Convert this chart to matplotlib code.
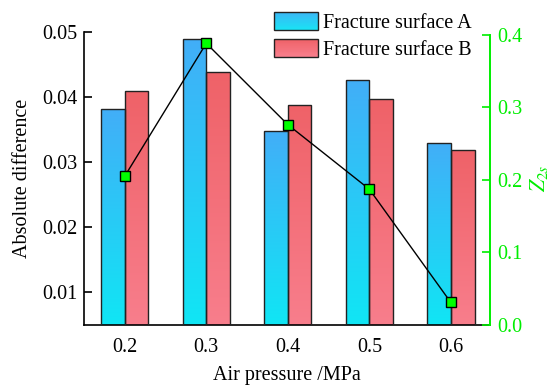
import numpy as np
import matplotlib
matplotlib.use("Agg")
import matplotlib.pyplot as plt
from matplotlib.patches import Rectangle
from matplotlib.legend_handler import HandlerBase
from matplotlib.colors import LinearSegmentedColormap, to_rgb

# ---- data ----
categories = ["0.2", "0.3", "0.4", "0.5", "0.6"]
surface_a = [0.0381, 0.0489, 0.0347, 0.0426, 0.0330]
surface_b = [0.0409, 0.0438, 0.0388, 0.0396, 0.0319]
z2s = [0.205, 0.388, 0.276, 0.187, 0.031]

plt.rcParams['font.family'] = ['Liberation Serif', 'DejaVu Serif']
plt.rcParams['mathtext.fontset'] = 'stix'
FS = 14.5

blue_top, blue_bot = "#42aef8", "#10e6f4"
red_top, red_bot = "#ef6268", "#f87e8c"
green = "#00ee00"
edge = "#222222"

fig = plt.figure(figsize=(5.5, 3.87), dpi=100)
ax = fig.add_axes([84/550, 1-325/387, (490-84)/550, (325-31.7)/387])
ax2 = ax.twinx()

x = np.arange(len(categories))
w = 0.29

def grad_bars(xs, vals, top, bot):
    bars = ax.bar(xs, vals, w, facecolor="none", edgecolor=edge, linewidth=1.0, zorder=3)
    cmap = LinearSegmentedColormap.from_list("g", [bot, top])
    grad = np.linspace(0, 1, 256).reshape(-1, 1)
    for b in bars:
        x0, y0 = b.get_x(), 0.005
        x1, y1 = b.get_x() + b.get_width(), b.get_height()
        im = ax.imshow(grad, cmap=cmap, origin="lower", aspect="auto",
                       extent=[x0, x1, y0, y1], zorder=2, interpolation="bilinear")
        im.set_clip_path(b)
    return bars

grad_bars(x - w/2, surface_a, blue_top, blue_bot)
grad_bars(x + w/2, surface_b, red_top, red_bot)

ax.set_xlim(-0.5, 4.48)
ax.set_ylim(0.005, 0.05)
ax.set_yticks([0.01, 0.02, 0.03, 0.04, 0.05])
ax.set_yticklabels(["0.01", "0.02", "0.03", "0.04", "0.05"])
ax.set_xticks(x)
ax.set_xticklabels(categories)
ax.tick_params(axis='y', direction='in', length=6, width=1.2, labelsize=FS, pad=5)
ax.tick_params(axis='x', length=0, labelsize=FS, pad=9)
ax.spines['top'].set_visible(False)
ax.spines['right'].set_visible(False)
for s in ['left', 'bottom']:
    ax.spines[s].set_linewidth(1.2)
ax.set_ylabel("Absolute difference", fontsize=FS, labelpad=7)
ax.set_xlabel("Air pressure /MPa", fontsize=FS, labelpad=7)

ax2.plot(x, z2s, color="black", linewidth=1.0, marker="s", markersize=7,
         markerfacecolor="#00ff00", markeredgecolor="black", markeredgewidth=1.0, zorder=5)
ax2.set_ylim(0, 0.404)
ax2.set_yticks([0.0, 0.1, 0.2, 0.3, 0.4])
ax2.set_yticklabels(["0.0", "0.1", "0.2", "0.3", "0.4"])
ax2.tick_params(axis='y', direction='in', length=6, width=1.2, colors=green, labelsize=FS, pad=5)
for s in ['top', 'left', 'bottom']:
    ax2.spines[s].set_visible(False)
ax2.spines['right'].set_color(green)
ax2.spines['right'].set_linewidth(1.4)
ax2.spines['right'].set_bounds(0, 0.4)
ax2.set_ylabel(r"$\mathit{Z}_{\mathit{2s}}$", fontsize=FS + 1, color=green, labelpad=4)
ax2.set_zorder(ax.get_zorder() + 1)
ax2.patch.set_visible(False)

class GradHandler(HandlerBase):
    def __init__(self, top, bot):
        super().__init__()
        self.top, self.bot = to_rgb(top), to_rgb(bot)
    def create_artists(self, legend, orig_handle, xdescent, ydescent, width, height, fontsize, trans):
        arts = []
        n = 20
        for i in range(n):
            t = i / (n - 1)
            c = tuple(self.bot[k] + (self.top[k] - self.bot[k]) * t for k in range(3))
            r = Rectangle((-xdescent, -ydescent + height * i / n), width, height / n + 0.3,
                          facecolor=c, edgecolor="none", transform=trans)
            arts.append(r)
        arts.append(Rectangle((-xdescent, -ydescent), width, height, facecolor="none",
                              edgecolor=edge, linewidth=1.0, transform=trans))
        return arts

ha = Rectangle((0, 0), 1, 1)
hb = Rectangle((0, 0), 1, 1)
leg = fig.legend([ha, hb], ["Fracture surface A", "Fracture surface B"],
                 handler_map={ha: GradHandler("#3ab8f5", "#1ae2f5"), hb: GradHandler(red_top, red_bot)},
                 loc="upper left", bbox_to_anchor=(270/550, 1-8/387), frameon=False,
                 fontsize=FS, handlelength=2.2, handleheight=1.0, handletextpad=0.25,
                 labelspacing=0.3, borderaxespad=0, borderpad=0.2)

fig.savefig("out.png", dpi=100)
